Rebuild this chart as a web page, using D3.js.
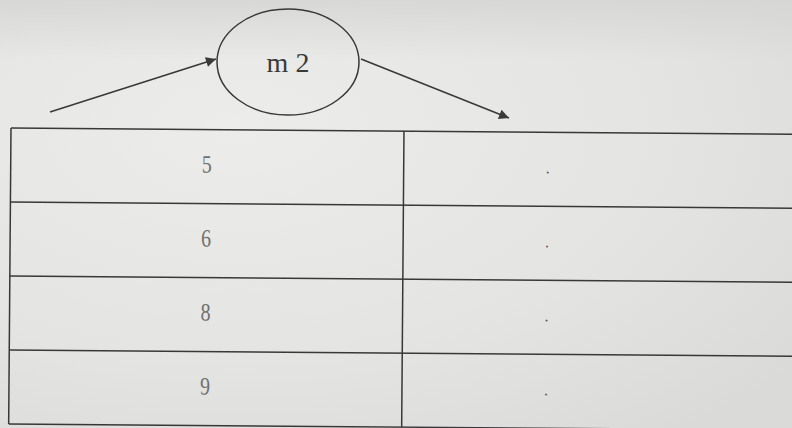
<!DOCTYPE html>
<html><head><meta charset="utf-8">
<script src="https://cdn.jsdelivr.net/npm/d3@7"></script>
<style>html,body{margin:0;padding:0;background:#e3e3e1;overflow:hidden}</style>
</head><body>
<svg id="c" width="792" height="428"></svg>
<script>
const machineLabel = "m 2";
const inputs = ["5", "6", "8", "9"];
const outputs = [".", ".", ".", "."];
const columns = ["input", "output"];

const W = 792, H = 428;
const svg = d3.select("#c");
const defs = svg.append("defs");
const g = defs.append("radialGradient").attr("id","bg").attr("cx","0.3").attr("cy","0.3").attr("r","0.9");
g.append("stop").attr("offset","0").attr("stop-color","#ececea");
g.append("stop").attr("offset","0.6").attr("stop-color","#e4e4e2");
g.append("stop").attr("offset","1").attr("stop-color","#dadad8");
svg.append("rect").attr("width",W).attr("height",H).attr("fill","url(#bg)");
const tg = defs.append("linearGradient").attr("id","top").attr("x1","0").attr("y1","0").attr("x2","0").attr("y2","1");
tg.append("stop").attr("offset","0").attr("stop-color","#d4d4d2").attr("stop-opacity",0.8);
tg.append("stop").attr("offset","1").attr("stop-color","#d4d4d2").attr("stop-opacity",0);
svg.append("rect").attr("width",W).attr("height",60).attr("fill","url(#top)");

defs.append("marker").attr("id","ah").attr("viewBox","0 0 10 10").attr("refX",10).attr("refY",5)
  .attr("markerWidth",13).attr("markerHeight",10).attr("markerUnits","userSpaceOnUse").attr("orient","auto")
  .append("path").attr("d","M0,0 L10,5 L0,10 Z").attr("fill","#3a3a3a");

const ink = "#383838";
const x = d3.scaleBand().domain(columns).range([11, 797]).paddingInner(0);
const xDiv = 404;
const y = d3.scaleBand().domain(d3.range(inputs.length)).range([128, 424]);

const tbl = svg.append("g").attr("transform","rotate(0.45, 11, 128)");
const hl = d3.range(inputs.length + 1).map(i => i < inputs.length ? y(i) : y.range()[1]);
tbl.selectAll("line.h").data(hl).join("line")
  .attr("x1", 11).attr("x2", W + 10).attr("y1", d => d).attr("y2", d => d)
  .attr("stroke", ink).attr("stroke-width", 1.5);
tbl.selectAll("line.v").data([11, xDiv]).join("line")
  .attr("x1", d => d).attr("x2", d => d).attr("y1", y.range()[0]).attr("y2", y.range()[1])
  .attr("stroke", ink).attr("stroke-width", 1.5);
tbl.selectAll("text.in").data(inputs).join("text")
  .attr("transform", (d,i) => `translate(207,${y(i) + y.bandwidth()/2 + 6}) scale(0.8,1)`)
  .attr("text-anchor","middle")
  .attr("font-family","Liberation Serif, serif").attr("font-size", 25).attr("fill","#707070")
  .text(d => d);
tbl.selectAll("text.out").data(outputs).join("text")
  .attr("x", 548).attr("y", (d,i) => y(i) + y.bandwidth()/2 + 4)
  .attr("text-anchor","middle")
  .attr("font-family","Liberation Serif, serif").attr("font-size", 16).attr("fill","#555")
  .text(d => d);

const cx = 288, cy = 62;
svg.append("ellipse").attr("cx",cx).attr("cy",cy).attr("rx",71).attr("ry",53)
  .attr("fill","none").attr("stroke",ink).attr("stroke-width",1.5);
svg.append("text").attr("x",cx).attr("y",cy+10).attr("text-anchor","middle")
  .attr("font-family","Liberation Serif, serif").attr("font-size",28).attr("fill","#3a3a3a")
  .text(machineLabel);
const line = d3.line();
svg.append("path").attr("d", line([[50,112],[216,59]])).attr("stroke",ink).attr("stroke-width",1.5)
  .attr("fill","none").attr("marker-end","url(#ah)");
svg.append("path").attr("d", line([[361,59],[509,118]])).attr("stroke",ink).attr("stroke-width",1.5)
  .attr("fill","none").attr("marker-end","url(#ah)");
</script>
</body></html>
